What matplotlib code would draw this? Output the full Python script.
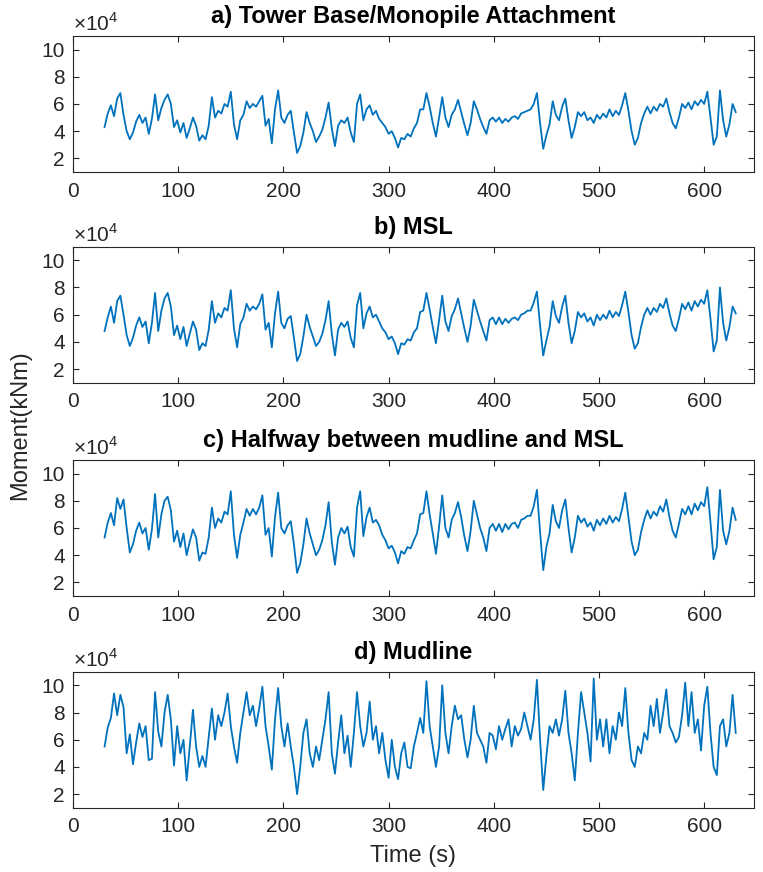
import numpy as np
import matplotlib
matplotlib.use("Agg")
import matplotlib.pyplot as plt
from matplotlib.ticker import FuncFormatter

plt.rcParams['font.family'] = ['Liberation Sans', 'DejaVu Sans']
plt.rcParams['mathtext.fontset'] = 'custom'
plt.rcParams['mathtext.rm'] = 'Liberation Sans'

LINE_COLOR = '#0072BD'
AXIS_COLOR = '#262626'

# time samples (s), every 3 s from 30 to 630
time_s = np.arange(30, 631, 3)

# moments in units of 1e4 kNm
tower_base = [
    4.3, 5.3, 5.9, 5.1, 6.4, 6.8, 5.2, 4.0, 3.4, 3.9,
    4.7, 5.2, 4.6, 5.0, 3.8, 4.9, 6.7, 4.8, 5.7, 6.3,
    6.7, 6.0, 4.3, 4.8, 3.9, 4.6, 3.5, 4.2, 5.0, 4.4,
    3.3, 3.7, 3.4, 4.4, 6.5, 5.0, 5.5, 5.3, 6.0, 5.8,
    6.9, 4.5, 3.4, 4.8, 5.2, 6.2, 5.7, 6.0, 5.8, 6.2,
    6.6, 4.4, 4.9, 3.1, 5.6, 7.0, 5.0, 4.6, 5.2, 5.5,
    3.9, 2.4, 2.9, 3.9, 5.4, 4.6, 4.0, 3.2, 3.6, 4.1,
    5.0, 6.1, 4.2, 2.9, 4.4, 4.8, 4.6, 5.0, 3.9, 3.2,
    6.0, 6.7, 4.8, 5.6, 5.9, 5.2, 5.5, 4.9, 4.6, 4.3,
    3.8, 4.0, 3.5, 2.8, 3.5, 3.4, 3.8, 3.6, 4.2, 4.6,
    5.6, 5.6, 6.8, 5.8, 4.6, 3.6, 5.0, 6.5, 5.0, 4.3,
    5.2, 5.6, 6.3, 5.4, 4.5, 3.7, 4.6, 6.2, 5.6, 4.9,
    4.3, 3.8, 4.8, 5.0, 4.7, 5.0, 4.6, 4.9, 4.7, 5.0,
    5.1, 4.9, 5.3, 5.4, 5.5, 5.6, 6.0, 6.8, 4.6, 2.7,
    3.7, 4.5, 6.2, 5.2, 4.8, 5.8, 6.4, 4.8, 3.5, 4.3,
    5.4, 5.1, 5.4, 4.8, 5.0, 4.6, 5.2, 4.9, 5.3, 5.0,
    5.6, 5.1, 5.5, 5.2, 5.9, 6.8, 5.5, 4.0, 3.0, 3.5,
    4.6, 5.3, 5.8, 5.3, 5.8, 5.5, 6.0, 5.8, 6.4, 5.4,
    4.6, 4.2, 5.0, 6.0, 5.7, 6.1, 5.6, 6.2, 5.9, 6.3,
    6.0, 6.9, 5.0, 3.0, 3.6, 7.0, 4.8, 3.6, 4.5, 6.0,
    5.4,
]

msl = [
    4.8, 5.8, 6.6, 5.4, 7.0, 7.4, 6.0, 4.5, 3.7, 4.3,
    5.2, 5.8, 5.1, 5.5, 3.9, 5.4, 7.6, 4.8, 6.3, 7.2,
    7.6, 6.6, 4.5, 5.2, 4.2, 5.1, 3.7, 4.6, 5.5, 4.9,
    3.4, 3.9, 3.7, 4.9, 7.0, 5.4, 6.1, 5.8, 6.5, 6.3,
    7.8, 5.0, 3.6, 5.3, 5.8, 6.8, 6.3, 6.6, 6.4, 6.8,
    7.5, 4.9, 5.4, 3.6, 6.1, 7.7, 5.4, 5.0, 5.7, 5.9,
    4.3, 2.6, 3.1, 4.4, 6.0, 5.1, 4.4, 3.7, 4.0, 4.6,
    5.6, 7.0, 4.6, 3.0, 4.9, 5.4, 5.1, 5.5, 4.3, 3.6,
    6.7, 7.6, 5.0, 6.1, 6.6, 5.8, 6.0, 5.5, 5.0, 4.7,
    4.2, 4.4, 3.9, 3.1, 3.9, 3.8, 4.2, 4.1, 4.7, 5.0,
    6.2, 6.3, 7.6, 6.4, 5.1, 3.9, 5.6, 7.4, 5.5, 4.8,
    5.9, 6.4, 7.2, 6.1, 5.0, 4.0, 5.2, 7.1, 6.3, 5.5,
    4.8, 4.1, 5.6, 5.8, 5.3, 5.8, 5.3, 5.7, 5.4, 5.7,
    5.8, 5.6, 6.0, 6.1, 6.3, 6.3, 6.9, 7.7, 5.2, 3.0,
    4.1, 5.1, 7.0, 5.9, 5.4, 6.6, 7.4, 5.4, 3.9, 4.8,
    6.2, 5.8, 6.1, 5.5, 5.8, 5.2, 6.0, 5.6, 6.0, 5.7,
    6.3, 5.8, 6.2, 5.9, 6.7, 7.7, 6.2, 4.5, 3.5, 3.9,
    5.1, 6.0, 6.5, 6.0, 6.5, 6.2, 6.8, 6.5, 7.2, 6.1,
    5.2, 4.8, 5.7, 6.8, 6.4, 6.9, 6.3, 7.0, 6.6, 7.1,
    6.8, 7.8, 5.7, 3.3, 4.1, 8.0, 5.4, 4.1, 5.1, 6.6,
    6.1,
]

halfway = [
    5.3, 6.4, 7.1, 6.2, 8.2, 7.4, 8.1, 6.0, 4.2, 4.8,
    5.8, 6.4, 5.6, 6.0, 4.4, 5.9, 8.5, 5.3, 7.0, 8.0,
    8.3, 7.3, 5.0, 5.8, 4.6, 5.6, 4.0, 5.0, 5.9, 5.3,
    3.6, 4.2, 4.1, 5.3, 7.5, 6.0, 6.7, 6.4, 7.2, 7.0,
    8.7, 5.5, 3.8, 5.5, 6.4, 7.4, 6.9, 7.4, 7.0, 7.5,
    8.4, 5.5, 6.0, 3.9, 6.8, 8.6, 6.0, 5.6, 6.2, 6.5,
    4.8, 2.7, 3.4, 4.8, 6.7, 5.6, 4.8, 4.0, 4.4, 5.1,
    6.2, 7.9, 5.0, 3.3, 5.3, 6.0, 5.6, 6.1, 4.6, 3.9,
    7.5, 8.7, 5.4, 6.8, 7.5, 6.4, 6.6, 6.2, 5.5, 5.1,
    4.5, 4.7, 4.2, 3.4, 4.3, 4.1, 4.6, 4.5, 5.1, 5.6,
    7.0, 7.1, 8.7, 7.0, 5.6, 4.1, 6.1, 8.4, 6.0, 5.3,
    6.6, 7.1, 7.9, 6.8, 5.4, 4.3, 5.8, 8.0, 7.0, 6.0,
    5.3, 4.3, 6.0, 6.3, 5.8, 6.3, 5.7, 6.3, 5.9, 6.3,
    6.4, 6.0, 6.6, 6.7, 6.9, 6.9, 7.6, 8.8, 5.7, 2.9,
    4.6, 5.6, 7.7, 6.5, 6.0, 7.3, 8.1, 6.0, 4.2, 5.3,
    6.9, 6.4, 6.7, 6.1, 6.4, 5.8, 6.6, 6.2, 6.7, 6.3,
    6.9, 6.4, 6.8, 6.5, 7.4, 8.6, 6.8, 5.0, 4.0, 4.4,
    5.7, 6.6, 7.3, 6.7, 7.2, 6.9, 7.6, 7.2, 8.1, 6.8,
    5.8, 5.3, 6.3, 7.4, 7.0, 7.6, 7.0, 7.8, 7.3, 7.9,
    7.6, 9.0, 6.4, 3.7, 4.6, 8.8, 5.8, 4.8, 5.8, 7.5,
    6.6,
]

mudline = [
    5.5, 6.9, 7.6, 9.4, 7.8, 9.3, 8.4, 5.0, 6.4, 4.2,
    5.8, 7.2, 6.2, 7.0, 4.5, 4.6, 9.5, 6.6, 5.5, 8.0,
    9.3, 7.5, 4.1, 7.0, 5.0, 6.0, 3.0, 5.5, 8.2, 5.5,
    4.0, 4.8, 4.0, 6.2, 8.3, 6.0, 7.8, 7.0, 8.0, 9.4,
    7.0, 5.5, 4.3, 6.5, 8.0, 9.5, 7.8, 8.5, 7.0, 8.3,
    9.9, 7.0, 5.5, 3.8, 7.5, 9.8, 7.0, 5.5, 7.2, 5.5,
    4.0, 2.0, 4.0, 6.5, 7.5, 5.0, 4.0, 5.5, 4.5, 6.0,
    7.5, 9.5, 5.0, 3.5, 5.8, 7.8, 5.0, 6.3, 4.0, 6.5,
    9.5, 7.0, 5.5, 6.5, 8.8, 6.0, 7.0, 5.0, 6.5, 4.5,
    3.2, 6.0, 4.0, 3.1, 5.0, 5.8, 4.0, 3.9, 5.5, 6.5,
    7.6, 6.5, 10.3, 7.0, 5.5, 4.0, 5.5, 10.0, 6.5, 5.0,
    7.0, 8.5, 7.5, 7.8, 6.0, 4.7, 6.0, 8.5, 6.5, 6.0,
    5.5, 4.3, 6.5, 6.3, 5.3, 7.0, 6.0, 6.8, 7.5, 5.5,
    7.0, 6.3, 6.8, 8.0, 7.0, 6.0, 7.5, 10.4, 6.0, 2.3,
    4.8, 7.0, 6.5, 7.5, 6.3, 7.5, 9.6, 6.5, 5.0, 3.0,
    6.5, 9.5, 8.0, 6.5, 4.4, 10.5, 6.0, 7.5, 5.5, 7.5,
    5.0, 7.0, 6.0, 8.0, 7.0, 9.8, 6.5, 4.5, 4.0, 5.5,
    5.0, 6.5, 6.0, 8.5, 7.0, 9.0, 6.5, 8.0, 9.7, 7.0,
    6.5, 5.8, 6.2, 7.8, 10.2, 7.0, 9.5, 6.5, 7.5, 5.2,
    8.5, 9.9, 6.5, 4.0, 3.4, 7.0, 7.5, 5.5, 6.5, 9.3,
    6.5,
]

titles = [
    'a) Tower Base/Monopile Attachment',
    'b) MSL',
    'c) Halfway between mudline and MSL',
    'd) Mudline',
]
series = [tower_base, msl, halfway, mudline]

# axes rectangles in figure fractions [left, bottom, width, height]
LEFT, WIDTH, HEIGHT = 0.0957, 0.892, 0.156
BOTTOMS = [0.8028, 0.5611, 0.3165, 0.0737]


def style_axis(ax):
    ax.set_xlim(0, 647)
    ax.set_ylim(1e4, 11e4)
    ax.set_xticks(range(0, 601, 100))
    ax.set_yticks([2e4, 4e4, 6e4, 8e4, 10e4])
    ax.yaxis.set_major_formatter(FuncFormatter(lambda v, _: f'{v / 1e4:g}'))
    ax.tick_params(direction='in', top=True, right=True, length=4,
                   width=0.8, color=AXIS_COLOR, labelcolor=AXIS_COLOR,
                   labelsize=15)
    ax.tick_params(axis='x', pad=7)
    ax.tick_params(axis='y', pad=6)
    for spine in ax.spines.values():
        spine.set_color(AXIS_COLOR)
        spine.set_linewidth(0.8)
    ax.text(0.0, 1.01, r'$\times10^{4}$', transform=ax.transAxes,
            fontsize=15, color=AXIS_COLOR, ha='left', va='bottom')


fig = plt.figure(figsize=(7.63, 8.72), dpi=100)
for bottom, title, values in zip(BOTTOMS, titles, series):
    ax = fig.add_axes([LEFT, bottom, WIDTH, HEIGHT])
    ax.plot(time_s, np.array(values) * 1e4, color=LINE_COLOR, linewidth=1.3)
    style_axis(ax)
    ax.set_title(title, fontsize=17, fontweight='bold', pad=9)

ax.set_xlabel('Time (s)', fontsize=17, color=AXIS_COLOR, labelpad=6)
fig.text(0.026, 0.512, 'Moment(kNm)', rotation=90, fontsize=17,
         color=AXIS_COLOR, ha='center', va='center')

fig.savefig('out.png', dpi=100)
